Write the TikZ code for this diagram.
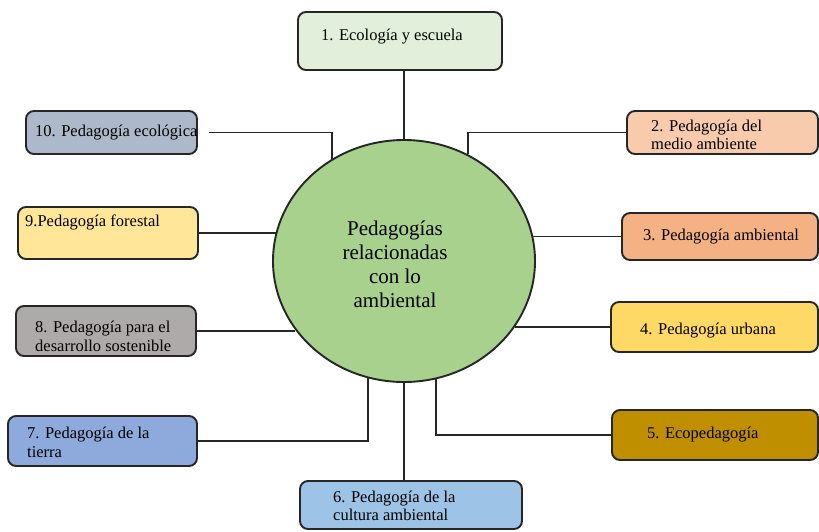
\documentclass[tikz,border=0pt]{standalone}
\usepackage{fontspec}
\setmainfont{Liberation Serif}
\usetikzlibrary{shapes.geometric}
\definecolor{ecoesc}{HTML}{E2EFDA}
\definecolor{medio}{HTML}{F8CBAD}
\definecolor{ambiental}{HTML}{F4B183}
\definecolor{urbana}{HTML}{FFD966}
\definecolor{ecoped}{HTML}{BF8F00}
\definecolor{cultura}{HTML}{9DC3E6}
\definecolor{tierra}{HTML}{8EA9DB}
\definecolor{sostenible}{HTML}{AEAAAA}
\definecolor{forestal}{HTML}{FFE699}
\definecolor{ecologica}{HTML}{ADB9CA}
\definecolor{hubgreen}{HTML}{A9D18E}

\begin{document}
\begin{tikzpicture}[x=1pt,y=-1pt,
  box/.style={draw=black!85,line width=1.9pt,rounded corners=8pt,inner sep=0pt},
  lbl/.style={font=\fontsize{16.5}{18.5}\selectfont,align=left,anchor=west,inner sep=0pt},
  link/.style={draw=black!85,line width=1.7pt}]
\useasboundingbox (0,0) rectangle (819,531);

% Central circle
\node[ellipse,draw=black!85,line width=1.9pt,fill=hubgreen,minimum width=262pt,minimum height=242pt] (hub) at (404,261) {};
\node[font=\fontsize{21}{24}\selectfont,align=center] (hubtxt) at (395,264) {Pedagogías\\relacionadas\\con lo\\ambiental};

% Boxes
\foreach \n/\cx/\cy/\w/\h/\col in {1/400/41/204/58/ecoesc, 2/722.5/132.5/191/43/medio,
    3/720/236.5/196/47/ambiental, 4/714.5/327/207/50/urbana, 5/715/435/206/50/ecoped,
    6/411/505/222/48/cultura, 7/102.5/441/189/50/tierra, 8/106/331/180/50/sostenible,
    9/108/233/180/52/forestal, 10/111.5/132.5/171/43/ecologica} {
    \node[box,fill=\col,minimum width=\w pt,minimum height=\h pt] (b\n) at (\cx,\cy) {};
}

% Box texts
\foreach \n/\tx/\ty/\txt in {1/321/37/{1. Ecología y escuela}, 2/651/135/{2. Pedagogía del\\medio ambiente},
    3/643/237/{3. Pedagogía ambiental}, 4/640/331/{4. Pedagogía urbana}, 5/647/435/{5. Ecopedagogía},
    6/333/506/{6. Pedagogía de la\\cultura ambiental}, 7/27/442.5/{7. Pedagogía de la\\tierra},
    8/35/336.5/{8. Pedagogía para el\\desarrollo sostenible}, 9/25/222/{9.Pedagogía forestal},
    10/35/133/{10. Pedagogía ecológica}} {
    \node[lbl] (t\n) at (\tx,\ty) {\txt};
}

% Connectors
\draw[link] (hub.north) -- (hub.north |- b1.south);
\draw[link] (b2.west) -| (hub.59.7);
\draw[link] (b3.west) -- (b3.west -| hub.11);
\draw[link] (b4.west) -- (b4.west -| hub.-31);
\draw[link] (b5.west) -| (hub.-75.7);
\draw[link] (hub.south) -- (hub.south |- b6.north);
\draw[link] (b7.east) -| (hub.253.3);
\draw[link] (b8.east) -- (b8.east -| hub.212.6);
\draw[link] (b9.east) -- (b9.east -| hub.167.6);
\draw[link,shorten <=11pt] (b10.east) -| (hub.125.5);
\end{tikzpicture}
\end{document}
